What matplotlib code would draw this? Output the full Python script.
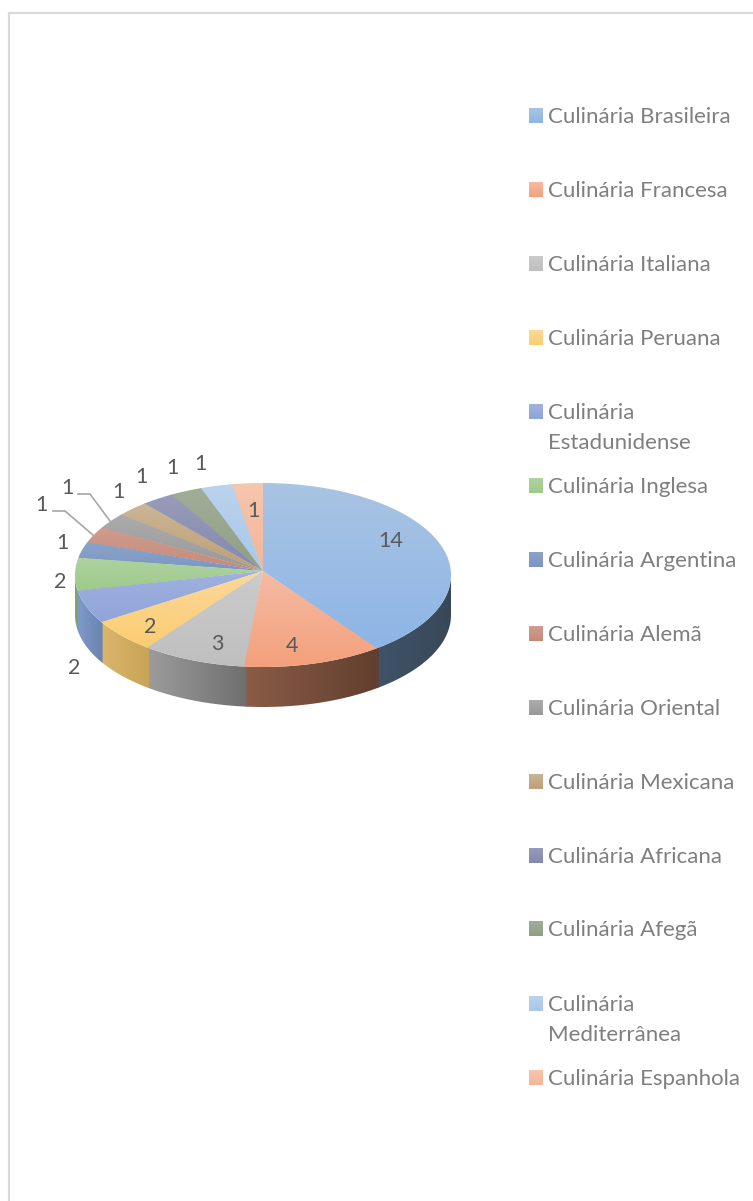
import numpy as np
import matplotlib
matplotlib.use("Agg")
import matplotlib.pyplot as plt
from matplotlib.patches import Polygon
from matplotlib.colors import LinearSegmentedColormap as LSC

categories = ["Culinária Brasileira", "Culinária Francesa", "Culinária Italiana", "Culinária Peruana",
              "Culinária\nEstadunidense", "Culinária Inglesa", "Culinária Argentina", "Culinária Alemã",
              "Culinária Oriental", "Culinária Mexicana", "Culinária Africana", "Culinária Afegã",
              "Culinária\nMediterrânea", "Culinária Espanhola"]
values = [14, 4, 3, 2, 2, 2, 1, 1, 1, 1, 1, 1, 1, 1]
top_light = ["#a9c4e3", "#f5bba3", "#cbcbcb", "#fbd899", "#9fb1de", "#afd2a0", "#8aa3c8", "#cf9c8e",
             "#ababab", "#cbb596", "#979cbb", "#a0ae98", "#bad2ec", "#f6c6ae"]
top_dark = ["#8eb5e6", "#f4a07c", "#bfbfbf", "#fbcd72", "#8fa4da", "#9fcb8a", "#7b97c2", "#c68a78",
            "#999999", "#bd9f75", "#8489ae", "#8f9f85", "#a9c8ea", "#f4b596"]
side_left = ["#3f5368", "#8a5c47", "#9c9c9c", "#dab56c", "#7f99c9", "#7fa56a", "#000000", "#000000",
             "#000000", "#000000", "#000000", "#000000", "#000000", "#000000"]
side_right = ["#384858", "#623f2f", "#6f6f6f", "#c9a456", "#6a84b0", "#7fa56a", "#000000", "#000000",
              "#000000", "#000000", "#000000", "#000000", "#000000", "#000000"]
label_x = [391, 292, 217, 150, 74, 60, 62, 41, 67, 118, 141, 172, 200, 253]
label_y = [541, 646, 644, 627, 668, 582, 543, 505, 488, 492, 477, 468, 464, 511]
legend_y = [115, 189, 263, 337, 411, 485, 559, 633, 707, 781, 855, 928, 1003, 1077]
leader_x = [[53, 65, 93], [78, 90, 110]]
leader_y = [[511, 511, 535], [494, 494, 521]]

W, H = 753, 1201
fig = plt.figure(figsize=(W / 100, H / 100), dpi=100, facecolor="white")
ax = fig.add_axes([0, 0, 1, 1])
ax.set_xlim(0, W); ax.set_ylim(H, 0); ax.axis("off")

cx, cy, apex_y, rx, ry, depth = 263, 575, 571, 188, 92, 40
FONT = "Lato"
LEG_SIZE = 16
TEXT_DY = 2

def gradient(pts, c0, c1, vertical, z):
    pts = np.asarray(pts)
    x0, x1, y0, y1 = pts[:, 0].min(), pts[:, 0].max(), pts[:, 1].min(), pts[:, 1].max()
    g = np.linspace(0, 1, 64)
    g = g[:, None] if vertical else g[None, :]
    im = ax.imshow(g, extent=(x0, x1, y1, y0), origin="upper", aspect="auto",
                   cmap=LSC.from_list("g", [c0, c1]), zorder=z, interpolation="bilinear")
    poly = Polygon(pts, closed=True, transform=ax.transData, fc="none", ec="none")
    ax.add_patch(poly)
    im.set_clip_path(poly)

def warp(a):
    # slight perspective: slices at the front open up a little
    return a - np.radians(2.8) * np.sin(a)

def rim(a):
    return np.column_stack([cx + rx * np.sin(a), cy - ry * np.cos(a)])

edges = warp(np.cumsum([0] + values) / sum(values) * 2 * np.pi)
for i, v in enumerate(values):
    # top surface (tiny overlap hides anti-aliased seams)
    a = np.linspace(edges[i], edges[i + 1] + 0.006, 80)
    gradient(np.vstack([[cx, apex_y], rim(a)]), top_light[i], top_dark[i], True, 3 + (len(values) - i) * 0.001)
    # visible side wall
    lo, hi = max(edges[i], np.pi / 2), min(edges[i + 1], 3 * np.pi / 2)
    if lo < hi:
        s = rim(np.linspace(lo - 0.006, hi, 80))
        wall = np.vstack([s, (s + [0, depth])[::-1]])
        gradient(wall, side_left[i], side_right[i], False, 2)
ax.set_xlim(0, W); ax.set_ylim(H, 0)

for x, y, v in zip(label_x, label_y, values):
    ax.text(x, y, str(v), fontsize=15.5, color="#595959", ha="center", va="center", family=FONT, zorder=5)
for xs, ys in zip(leader_x, leader_y):
    ax.plot(xs, ys, color="#a6a6a6", lw=1.2, zorder=4, solid_joinstyle="miter")

for name, y, c0, c1 in zip(categories, legend_y, top_light, top_dark):
    sy = y - 7
    gradient([(529, sy), (543, sy), (543, sy + 15), (529, sy + 15)], c0, c1, True, 4)
    for k, line in enumerate(name.split("\n")):
        ax.text(548, y + TEXT_DY + 30 * k, line, fontsize=LEG_SIZE, color="#7f7f7f",
                va="center", ha="left", family=FONT)

# chart frame (only top and left edges fall inside the picture)
ax.plot([9, 9, W], [H, 13, 13], color="#d9d9d9", lw=1.6, zorder=1, solid_joinstyle="miter")
ax.set_xlim(0, W); ax.set_ylim(H, 0)
fig.savefig("out.png", dpi=100, facecolor="white")
